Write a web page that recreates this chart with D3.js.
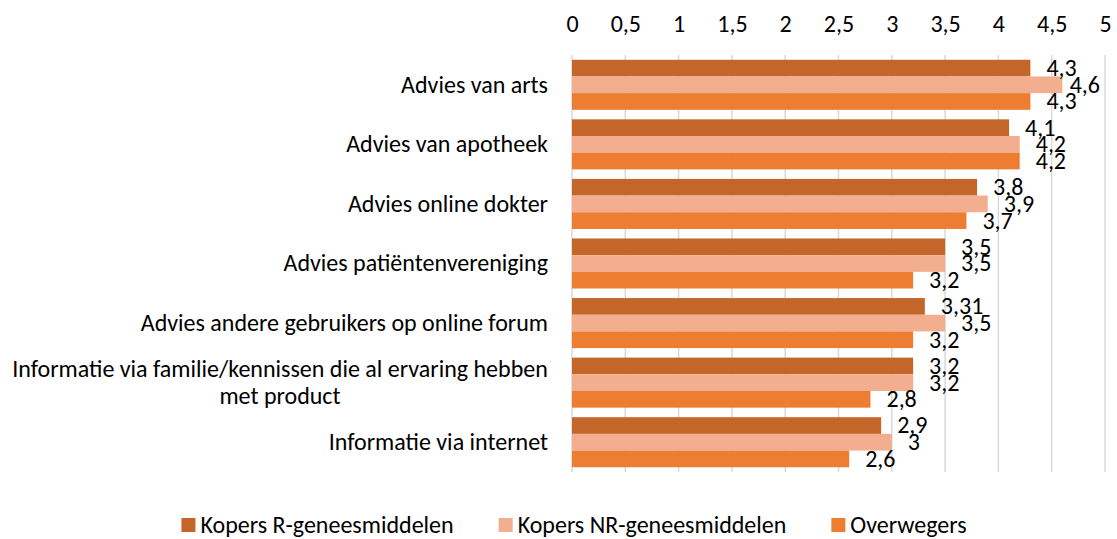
<!DOCTYPE html>
<html>
<head>
<meta charset="utf-8">
<script src="https://cdn.jsdelivr.net/npm/d3@7"></script>
<style>
  html, body { margin: 0; padding: 0; background: #fff; }
  svg { display: block; }
  text { font-family: Carlito, Calibri, Lato, "Open Sans", sans-serif; fill: #000; }
</style>
</head>
<body>
<div id="chart"></div>
<script>
const categories = [
  "Advies van arts",
  "Advies van apotheek",
  "Advies online dokter",
  "Advies patiëntenvereniging",
  "Advies andere gebruikers op online forum",
  "Informatie via familie/kennissen die al ervaring hebben met product",
  "Informatie via internet"
];
const seriesNames = ["Kopers R-geneesmiddelen", "Kopers NR-geneesmiddelen", "Overwegers"];
const kopersR = [4.3, 4.1, 3.8, 3.5, 3.31, 3.2, 2.9];
const kopersNR = [4.6, 4.2, 3.9, 3.5, 3.5, 3.2, 3];
const overwegers = [4.3, 4.2, 3.7, 3.2, 3.2, 2.8, 2.6];
const tickValues = [0, 0.5, 1, 1.5, 2, 2.5, 3, 3.5, 4, 4.5, 5];

const seriesValues = [kopersR, kopersNR, overwegers];
const colors = ["#c4662a", "#f2ae8f", "#ed7d31"];

const WIDTH = 1117;
const HEIGHT = 539;
const FONT = 24;

const svg = d3.select("#chart").append("svg")
  .attr("width", WIDTH)
  .attr("height", HEIGHT);

const x = d3.scaleLinear().domain([0, 5]).range([572, 1105]);
const y = d3.scaleBand().domain(categories).range([55, 472])
  .paddingInner(0.16).paddingOuter(0.08);
const ySub = d3.scaleBand().domain(seriesNames).range([0, y.bandwidth()]);

// gridlines
svg.append("g")
  .selectAll("line")
  .data(tickValues)
  .join("line")
  .attr("x1", d => x(d)).attr("x2", d => x(d))
  .attr("y1", 55).attr("y2", 472)
  .attr("stroke", "#d9d9d9")
  .attr("stroke-width", 1.5);

// top axis labels
const axis = svg.append("g")
  .attr("transform", "translate(0,32)")
  .call(d3.axisTop(x).tickValues(tickValues).tickSize(0).tickPadding(0)
    .tickFormat(d => String(d).replace(".", ",")));
axis.select(".domain").remove();
axis.selectAll("text")
  .attr("font-size", FONT)
  .attr("font-family", null)
  .attr("dy", 0);

// bars
const rows = categories.map((c, i) => ({
  category: c,
  values: seriesNames.map((s, j) => ({ series: s, value: seriesValues[j][i], color: colors[j] }))
}));

const groups = svg.append("g")
  .selectAll("g")
  .data(rows)
  .join("g")
  .attr("transform", d => `translate(0,${y(d.category)})`);

groups.selectAll("rect")
  .data(d => d.values)
  .join("rect")
  .attr("x", x(0))
  .attr("y", d => ySub(d.series))
  .attr("width", d => x(d.value) - x(0))
  .attr("height", ySub.bandwidth())
  .attr("fill", d => d.color);

groups.selectAll("text.value")
  .data(d => d.values)
  .join("text")
  .attr("class", "value")
  .attr("font-size", FONT)
  .attr("y", d => ySub(d.series) + ySub.bandwidth() / 2 + FONT * 0.33)
  .text(d => String(d.value).replace(".", ","))
  .each(function (d) {
    const w = this.getComputedTextLength();
    const pos = Math.min(x(d.value) + 16, 1100 - w);
    d3.select(this).attr("x", pos);
  });

// category labels
function wrapLines(text, maxChars) {
  const words = text.split(/\s+/);
  const lines = [];
  let line = [];
  words.forEach(w => {
    const test = line.concat(w).join(" ");
    if (test.length > maxChars && line.length) {
      lines.push(line.join(" "));
      line = [w];
    } else {
      line.push(w);
    }
  });
  if (line.length) lines.push(line.join(" "));
  return lines;
}

svg.append("g")
  .selectAll("text")
  .data(categories)
  .join("text")
  .attr("font-size", FONT)
  .each(function (d) {
    const lines = wrapLines(d, 56);
    const t = d3.select(this);
    const cy = y(d) + y.bandwidth() / 2;
    const lh = 27;
    const top = cy - (lines.length - 1) * lh / 2 + FONT * 0.33;
    if (lines.length === 1) {
      t.attr("text-anchor", "end");
      t.append("tspan").attr("x", 548).attr("y", top).text(lines[0]);
    } else {
      t.attr("text-anchor", "middle");
      lines.forEach((l, i) => {
        t.append("tspan").attr("x", 280).attr("y", top + i * lh).text(l);
      });
    }
  });

// legend
const legend = svg.append("g").attr("transform", "translate(0,525)");
const items = legend.selectAll("g")
  .data(seriesNames)
  .join("g");

items.append("rect")
  .attr("width", 14).attr("height", 14)
  .attr("y", -7)
  .attr("fill", (d, i) => colors[i]);

items.append("text")
  .attr("x", 19)
  .attr("y", FONT * 0.33)
  .attr("font-size", FONT)
  .text(d => d);

const widths = [];
items.each(function () {
  widths.push(19 + d3.select(this).select("text").node().getComputedTextLength());
});
const totalW = d3.sum(widths) + 45 * (widths.length - 1);
let offset = 574 - totalW / 2;
items.attr("transform", (d, i) => {
  const pos = offset;
  offset += widths[i] + 45;
  return `translate(${pos},0)`;
});
</script>
</body>
</html>
